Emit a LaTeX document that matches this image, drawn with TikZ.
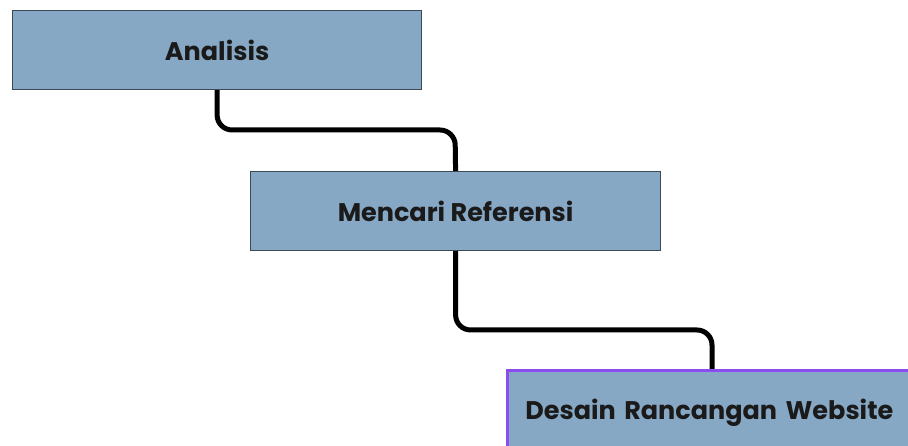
\documentclass[tikz,border=0pt]{standalone}
\usepackage{fontspec}
\setmainfont{Poppins}
\definecolor{boxfill}{HTML}{87A8C4}
\definecolor{boxedge}{HTML}{3C4A56}
\definecolor{hilite}{HTML}{8B4DF0}
\definecolor{txt}{HTML}{1A1A1A}
\tikzset{
  stepbox/.style={draw=boxedge, line width=1.2pt, fill=boxfill, inner sep=0pt,
    font=\fontsize{25.5}{28}\selectfont\bfseries, text=txt},
  link/.style={line width=5pt, black, rounded corners=15pt}
}
\begin{document}
\begin{tikzpicture}[x=1pt,y=-1pt]
  \useasboundingbox (0,0) rectangle (908,446);
  \clip (0,0) rectangle (908,446);
  \node[stepbox, minimum width=409pt, minimum height=79pt, anchor=north west] (a) at (12,10) {Analisis};
  \node[stepbox, minimum width=410pt, minimum height=79pt, anchor=north west] (b) at (250,171) {Mencari Referensi};
  \node[stepbox, draw=hilite, line width=2.6pt, minimum height=84pt,
        anchor=north west, text width=400pt, align=left, inner xsep=18pt] (c) at (506,369)
        {Desain Rancangan Website};
  \coordinate (cin) at (712,369);
  \draw[link] (a.south) |- (455,130) -- (b.north);
  \draw[link] (b.south) |- (712,330) -- (cin);
\end{tikzpicture}
\end{document}
